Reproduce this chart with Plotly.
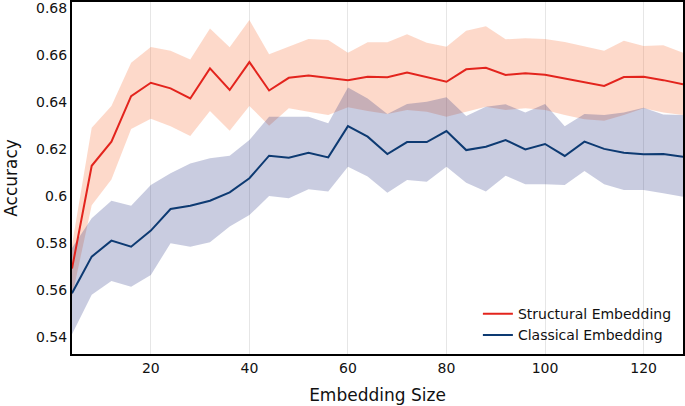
import plotly.graph_objects as go

sizes = list(range(4, 129, 4))

structural_mean = [0.5690, 0.6128, 0.6231, 0.6425, 0.6482, 0.6458, 0.6415, 0.6543,
                   0.6451, 0.6570, 0.6449, 0.6503, 0.6513, 0.6503, 0.6493, 0.6507,
                   0.6505, 0.6525, 0.6505, 0.6486, 0.6539, 0.6546, 0.6515, 0.6522,
                   0.6516, 0.6499, 0.6482, 0.6468, 0.6506, 0.6507, 0.6493, 0.6475]
structural_upper = [0.5790, 0.6290, 0.6383, 0.6567, 0.6634, 0.6618, 0.6581, 0.6713,
                    0.6633, 0.6749, 0.6603, 0.6635, 0.6668, 0.6664, 0.6610, 0.6655,
                    0.6655, 0.6689, 0.6652, 0.6635, 0.6703, 0.6723, 0.6667, 0.6671,
                    0.6668, 0.6656, 0.6638, 0.6618, 0.6661, 0.6638, 0.6642, 0.6610]
structural_lower = [0.5570, 0.5960, 0.6070, 0.6285, 0.6329, 0.6297, 0.6255, 0.6361,
                    0.6277, 0.6383, 0.6299, 0.6373, 0.6358, 0.6344, 0.6377, 0.6361,
                    0.6349, 0.6366, 0.6358, 0.6337, 0.6360, 0.6380, 0.6366, 0.6373,
                    0.6366, 0.6344, 0.6326, 0.6320, 0.6344, 0.6373, 0.6355, 0.6344]

classical_mean = [0.5585, 0.5741, 0.5809, 0.5783, 0.5852, 0.5944, 0.5958, 0.5979,
                  0.6015, 0.6075, 0.6171, 0.6162, 0.6184, 0.6164, 0.6297, 0.6252,
                  0.6178, 0.6229, 0.6229, 0.6276, 0.6195, 0.6209, 0.6238, 0.6198,
                  0.6221, 0.6170, 0.6231, 0.6200, 0.6184, 0.6177, 0.6178, 0.6167]
classical_upper = [0.5778, 0.5904, 0.5979, 0.5958, 0.6046, 0.6096, 0.6138, 0.6160,
                   0.6171, 0.6238, 0.6337, 0.6337, 0.6337, 0.6309, 0.6462, 0.6415,
                   0.6349, 0.6391, 0.6401, 0.6420, 0.6340, 0.6380, 0.6390, 0.6355,
                   0.6391, 0.6297, 0.6349, 0.6344, 0.6355, 0.6375, 0.6347, 0.6344]
classical_lower = [0.5410, 0.5578, 0.5637, 0.5613, 0.5663, 0.5798, 0.5783, 0.5802,
                   0.5869, 0.5918, 0.5999, 0.5990, 0.6028, 0.6018, 0.6124, 0.6082,
                   0.6013, 0.6067, 0.6060, 0.6124, 0.6056, 0.6018, 0.6086, 0.6049,
                   0.6049, 0.6046, 0.6106, 0.6049, 0.6025, 0.6025, 0.6011, 0.5996]

x_ticks = [20, 40, 60, 80, 100, 120]
y_ticks = [0.54, 0.56, 0.58, 0.60, 0.62, 0.64, 0.66, 0.68]
y_tick_labels = ["0.54", "0.56", "0.58", "0.6", "0.62", "0.64", "0.66", "0.68"]

RED = "#e3241d"
BLUE = "#0d3a72"
FONT = "DejaVu Sans"
TEXT = "#111111"

fig = go.Figure()

fig.add_trace(go.Scatter(
    x=sizes + sizes[::-1], y=structural_upper + structural_lower[::-1],
    fill="toself", fillcolor="rgba(250,128,80,0.30)", line=dict(width=0),
    mode="lines", showlegend=False, hoverinfo="skip"))
fig.add_trace(go.Scatter(
    x=sizes + sizes[::-1], y=classical_upper + classical_lower[::-1],
    fill="toself", fillcolor="rgba(30,42,126,0.24)", line=dict(width=0),
    mode="lines", showlegend=False, hoverinfo="skip"))

fig.add_trace(go.Scatter(x=sizes, y=structural_mean, mode="lines",
                         line=dict(color=RED, width=2), name="Structural Embedding"))
fig.add_trace(go.Scatter(x=sizes, y=classical_mean, mode="lines",
                         line=dict(color=BLUE, width=2), name="Classical Embedding"))

fig.update_layout(
    width=685, height=406,
    margin=dict(l=72, r=2, t=2, b=52),
    paper_bgcolor="white", plot_bgcolor="white",
    font=dict(family=FONT, size=14, color=TEXT),
    legend=dict(x=0.990, y=0.008, xanchor="right", yanchor="bottom",
                bgcolor="rgba(255,255,255,0)", font=dict(size=14, color=TEXT),
                tracegroupgap=0, itemwidth=30),
    showlegend=True,
)
fig.update_xaxes(
    range=[4, 128], tickvals=x_ticks, showgrid=True, gridcolor="#e6e6e6", gridwidth=1,
    zeroline=False, showline=True, linecolor="black", linewidth=2, mirror=True,
    ticks="", automargin=False,
    title=dict(text="Embedding Size", font=dict(size=17), standoff=14),
    tickfont=dict(size=14))
fig.update_yaxes(
    range=[0.5326, 0.6826], tickvals=y_ticks, ticktext=y_tick_labels, showgrid=False,
    zeroline=False, showline=True, linecolor="black", linewidth=2, mirror=True,
    ticks="", automargin=False,
    title=dict(text="Accuracy", font=dict(size=17), standoff=14),
    tickfont=dict(size=14))

fig.write_html("out.html", config={"displayModeBar": False},
               post_script="document.body.style.margin='0';")
